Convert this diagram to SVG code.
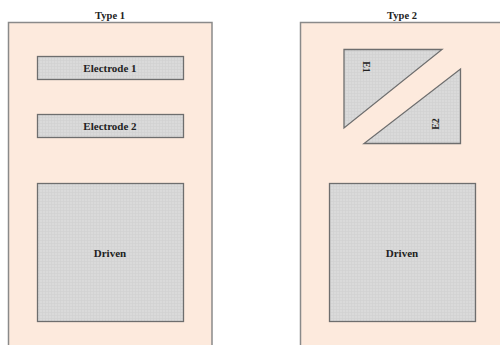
<svg xmlns="http://www.w3.org/2000/svg" width="500" height="345" viewBox="0 0 500 345">
<defs>
<pattern id="grid" width="3" height="3" patternUnits="userSpaceOnUse">
<rect width="3" height="3" fill="#dadada"/>
<path d="M0 0.5H3M0.5 0V3" stroke="#d0d0d0" stroke-width="0.6"/>
</pattern>
</defs>
<style>
.panel{fill:#fdeadd;stroke:#8a8a8a;stroke-width:1.5}
.el{fill:url(#grid);stroke:#6e6e6e;stroke-width:1.3}
.t{font-family:"Liberation Serif",serif;font-weight:bold;fill:#222;text-anchor:middle}
.lbl{font-size:11px}
.ttl{font-size:10.5px}
</style>
<rect width="500" height="345" fill="#ffffff"/>
<g id="type1">
<rect class="panel" x="8.5" y="22.5" width="203.5" height="330"/>
<text class="t ttl" x="110" y="19">Type 1</text>
</g>
<g id="electrode1">
<rect class="el" x="37.5" y="56.5" width="146" height="23"/>
<text class="t lbl" x="110" y="71.5">Electrode 1</text>
</g>
<g id="electrode2">
<rect class="el" x="37.5" y="114.5" width="146" height="23"/>
<text class="t lbl" x="110" y="129.5">Electrode 2</text>
</g>
<g id="driven1">
<rect class="el" x="37.5" y="183.5" width="146" height="138"/>
<text class="t lbl" x="110" y="256.5">Driven</text>
</g>
<g id="type2">
<rect class="panel" x="300.5" y="22.5" width="210" height="330"/>
<text class="t ttl" x="402" y="19">Type 2</text>
</g>
<g id="e1">
<polygon class="el" points="344,49.5 442,49.5 344,128"/>
<text class="t" font-size="10" transform="translate(363,67) rotate(90)">E1</text>
</g>
<g id="e2">
<polygon class="el" points="460.5,69 460.5,143.5 364,143.5"/>
<text class="t" font-size="10" transform="translate(439,124) rotate(-90)">E2</text>
</g>
<g id="connectors"></g>
<g id="driven2">
<rect class="el" x="329.5" y="183.5" width="146" height="138"/>
<text class="t lbl" x="402" y="256.5">Driven</text>
</g>
</svg>
